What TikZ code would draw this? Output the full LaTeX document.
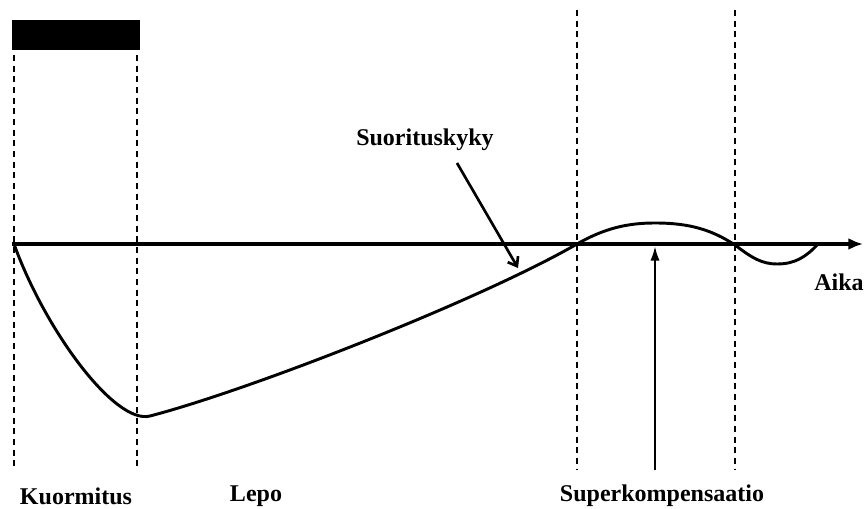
\documentclass[tikz,border=0pt]{standalone}
\usepackage{fontspec}
\setmainfont{Liberation Serif}
\usetikzlibrary{arrows.meta}
\begin{document}
\begin{tikzpicture}[x=0.75pt,y=-0.75pt,
  vline/.style={line width=2.1pt,dash pattern=on 4.5pt off 3.5pt},
  lbl/.style={font=\fontsize{18}{20}\selectfont\bfseries,inner sep=0pt},
  curve/.style={line width=2.2pt},
  axisline/.style={line width=2.8pt,-{Latex[length=11pt,width=9pt]}},
  pointer/.style={line width=2pt,-{Straight Barb[length=6pt,width=9pt,line width=2pt]}},
  uparrow/.style={line width=1.8pt,-{Latex[length=11pt,width=7pt]}}]
\useasboundingbox (0,0) rectangle (865,509);
% load bar
\fill (12,20) rectangle (140,50);
% dashed guides
\coordinate (d1t) at (14,55);   \coordinate (d1b) at (14,470);
\coordinate (d2t) at (137,55);  \coordinate (d2b) at (137,470);
\coordinate (d3t) at (577,10);  \coordinate (d3b) at (577,470);
\coordinate (d4t) at (735,10);  \coordinate (d4b) at (735,470);
\draw[vline] (d1t) -- (d1b);
\draw[vline] (d2t) -- (d2b);
\draw[vline] (d3t) -- (d3b);
\draw[vline] (d4t) -- (d4b);
% axis
\coordinate (o) at (12,244);
\coordinate (axend) at (863,244);
\draw[axisline] (o) -- (axend);
% performance curve
\draw[curve] (14,244) .. controls (45,330) and (115,425) .. (150,416)
  .. controls (250,390) and (480,300) .. (577,244)
  .. controls (605,228) and (628,223) .. (655,223)
  .. controls (690,223) and (712,230) .. (735,245)
  .. controls (752,258) and (762,264) .. (777,264)
  .. controls (795,264) and (806,257) .. (818,244);
% labels
\node[lbl] (suor) at (425,140) {Suorituskyky};
\coordinate (suortip) at (518,268);
\draw[pointer] (457,163) -- (suortip);
\node[lbl,anchor=east] (aika) at (864,282) {Aika};
\node[lbl] (kuor) at (76,496) {Kuormitus};
\node[lbl] (lepo) at (256,496) {Lepo};
\node[lbl] (super) at (662,496) {Superkompensaatio};
\coordinate (upb) at (655,470);
\coordinate (upt) at (655,246);
\draw[uparrow] (upb) -- (upt);
\end{tikzpicture}
\end{document}
